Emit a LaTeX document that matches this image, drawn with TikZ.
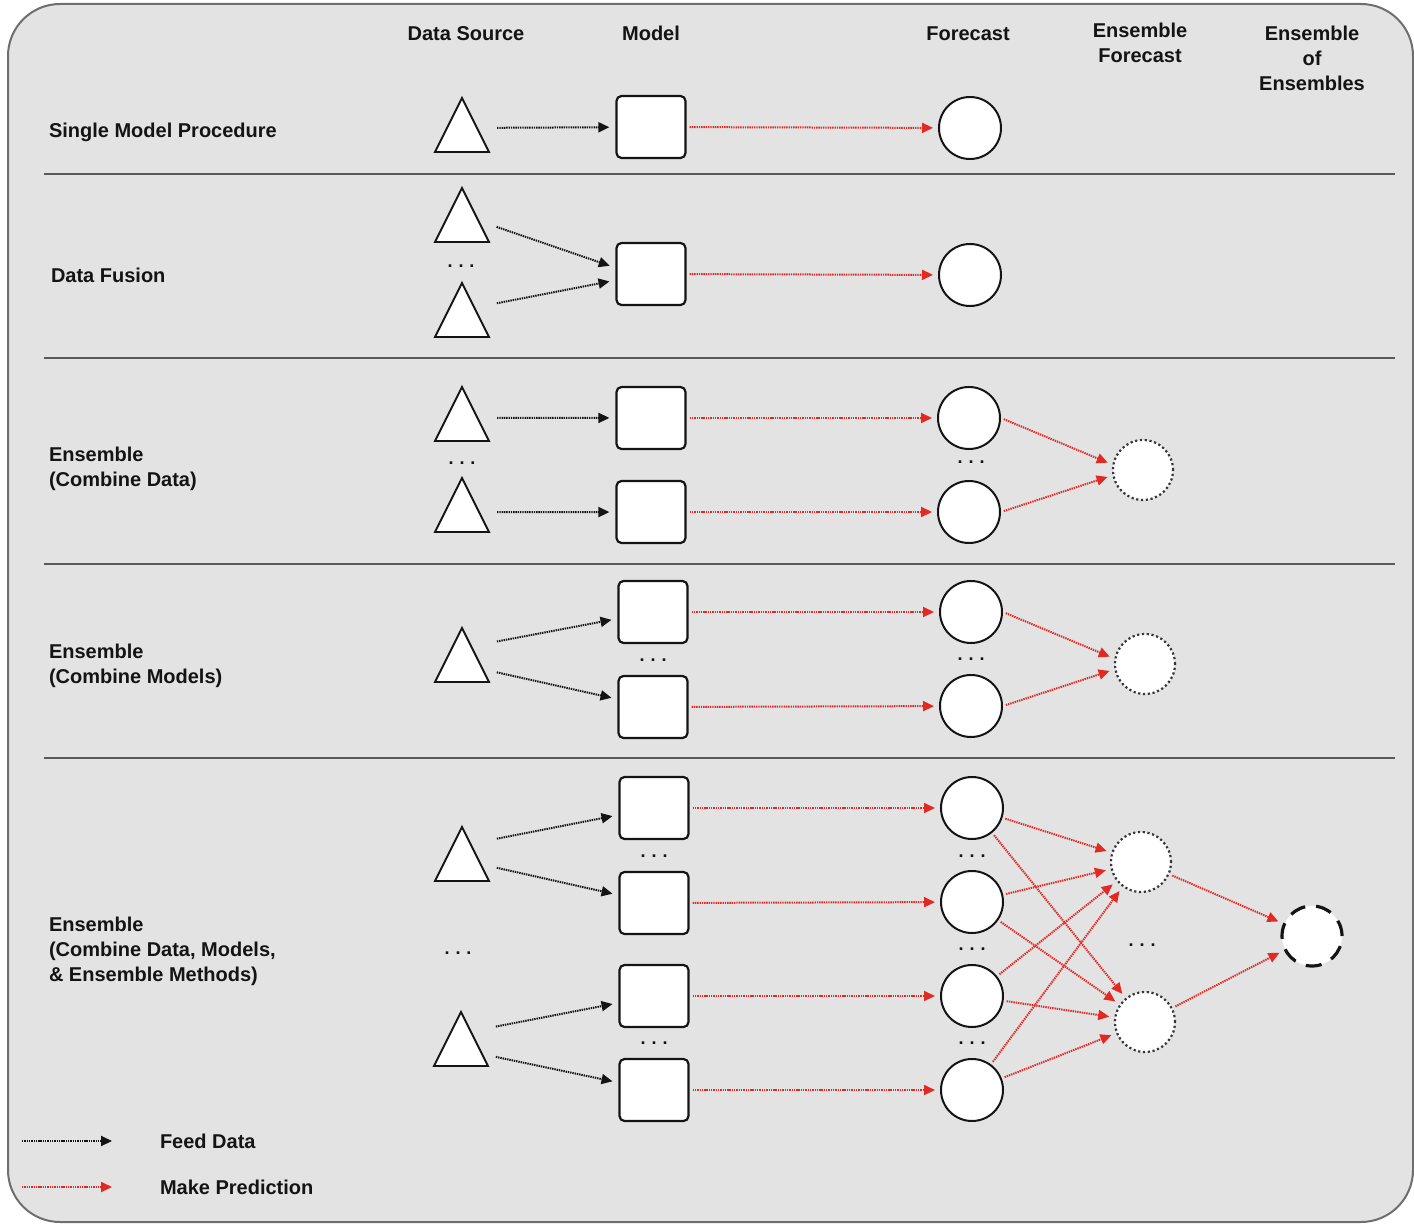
\documentclass[tikz,border=0pt]{standalone}
\usepackage{fontspec}
\setmainfont{Liberation Sans}
\usetikzlibrary{arrows.meta}
\definecolor{panel}{HTML}{E3E3E3}
\definecolor{frame}{HTML}{6E6E6E}
\definecolor{rule}{HTML}{5A5A5A}
\definecolor{ink}{HTML}{141414}
\definecolor{predred}{HTML}{E22A24}
\begin{document}
\begin{tikzpicture}[x=1pt,y=-1pt,
  lbl/.style={font=\fontsize{20}{25}\selectfont\bfseries, text=ink, inner sep=0pt, outer sep=0pt},
  hdr/.style={lbl, align=center},
  rowlbl/.style={lbl, align=left, anchor=west},
  more/.style={font=\fontsize{18}{18}\selectfont\bfseries, text=ink, inner sep=0pt},
  src/.style={minimum width=54pt, minimum height=54pt, inner sep=0pt, outer sep=0pt},
  trishape/.style={draw=ink, fill=white, line width=1.9pt, line join=miter},
  mdl/.style={draw=ink, fill=white, line width=2.2pt, rounded corners=5pt,
    minimum width=69pt, minimum height=62pt, inner sep=0pt},
  fc/.style={circle, draw=ink, fill=white, line width=2pt, minimum size=62pt, inner sep=0pt},
  ens/.style={circle, draw=ink!85, fill=white, line width=2.2pt, dash pattern=on 2.2pt off 2.6pt,
    minimum size=60pt, inner sep=0pt},
  ensens/.style={circle, draw=ink, fill=white, line width=3.2pt, dash pattern=on 16pt off 11pt,
    minimum size=60pt, inner sep=0pt},
  tip/.style={-{Triangle[length=11pt,width=10pt]}},
  feed/.style={tip, draw=ink, line width=2pt, dash pattern=on 1.4pt off 0.9pt,
    shorten <=8pt, shorten >=6pt},
  pred/.style={tip, draw=predred, line width=2pt, dash pattern=on 1.4pt off 0.9pt,
    shorten <=3pt, shorten >=5pt},
]
\useasboundingbox (0,0) rectangle (1414,1225);

% panel and row separators
\draw[fill=panel, draw=frame, line width=2pt, rounded corners=52pt] (8,4) rectangle (1413,1222);
\foreach \yy in {174,358,564,758}
  \draw[rule, line width=2pt] (44,\yy) -- (1395,\yy);

% column headers
\node[hdr, anchor=base] (hsrc) at (466,41) {Data Source};
\node[hdr, anchor=base] (hmdl) at (651,41) {Model};
\node[hdr, anchor=base] (hfc) at (968,41) {Forecast};
\node[hdr] (hens) at (1140,43) {Ensemble\\Forecast};
\node[hdr] (hee) at (1312,58) {Ensemble\\of\\Ensembles};

% row labels
\node[lbl, anchor=base west] (r1) at (49,138) {Single Model Procedure};
\node[lbl, anchor=base west] (r2) at (51,283) {Data Fusion};
\node[rowlbl] (r3) at (49,469) {Ensemble\\(Combine Data)};
\node[rowlbl] (r4) at (49,666) {Ensemble\\(Combine Models)};
\node[rowlbl] (r5) at (49,951) {Ensemble\\(Combine Data, Models,\\\& Ensemble Methods)};

% data sources
\node[src] (t11) at (462,125) {};
\node[src] (t21) at (462,215) {};
\node[src] (t22) at (462,310) {};
\node[src] (t31) at (462,414) {};
\node[src] (t32) at (462,505) {};
\node[src] (t41) at (462,655) {};
\node[src] (t51) at (462,854) {};
\node[src] (t52) at (461,1039) {};
\foreach \n in {t11,t21,t22,t31,t32,t41,t51,t52}
  \draw[trishape] (\n.north) -- (\n.south east) -- (\n.south west) -- cycle;

% models
\node[mdl] (m11) at (651,127) {};
\node[mdl] (m21) at (651,274) {};
\node[mdl] (m31) at (651,418) {};
\node[mdl] (m32) at (651,512) {};
\node[mdl] (m41) at (653,612) {};
\node[mdl] (m42) at (653,707) {};
\node[mdl] (m51) at (654,808) {};
\node[mdl] (m52) at (654,903) {};
\node[mdl] (m53) at (654,996) {};
\node[mdl] (m54) at (654,1090) {};

% forecasts
\node[fc] (f11) at (970,128) {};
\node[fc] (f21) at (970,275) {};
\node[fc] (f31) at (969,418) {};
\node[fc] (f32) at (969,512) {};
\node[fc] (f41) at (971,612) {};
\node[fc] (f42) at (971,706) {};
\node[fc] (f51) at (972,808) {};
\node[fc] (f52) at (972,902) {};
\node[fc] (f53) at (972,996) {};
\node[fc] (f54) at (972,1090) {};

% ensemble forecasts and the ensemble of ensembles
\node[ens] (e31) at (1143,470) {};
\node[ens] (e41) at (1145,664) {};
\node[ens] (e51) at (1141,862) {};
\node[ens] (e52) at (1145,1022) {};
\node[ensens] (g5) at (1312,936) {};

% ellipses
\node[more] (d2s) at (461,266) {.\,\,.\,\,.};
\node[more] (d3s) at (462,463) {.\,\,.\,\,.};
\node[more] (d3f) at (971,462) {.\,\,.\,\,.};
\node[more] (d4m) at (653,660) {.\,\,.\,\,.};
\node[more] (d4f) at (971,659) {.\,\,.\,\,.};
\node[more] (d5s) at (458,953) {.\,\,.\,\,.};
\node[more] (d5m1) at (654,856) {.\,\,.\,\,.};
\node[more] (d5m2) at (654,1043) {.\,\,.\,\,.};
\node[more] (d5f1) at (972,856) {.\,\,.\,\,.};
\node[more] (d5f2) at (972,949) {.\,\,.\,\,.};
\node[more] (d5f3) at (972,1043) {.\,\,.\,\,.};
\node[more] (d5e) at (1142,945) {.\,\,.\,\,.};

% feed data
\draw[feed] (t11.-6) -- (m11);
\draw[feed] (t21) -- (m21.170);
\draw[feed] (t22) -- (m21.190);
\draw[feed] (t31.-8) -- (m31);
\draw[feed] (t32.-15) -- (m32);
\draw[feed] (t41.24) -- (m41);
\draw[feed] (t41.-30) -- (m42);
\draw[feed] (t51.27) -- (m51);
\draw[feed] (t51.-24) -- (m52);
\draw[feed] (t52.22) -- (m53);
\draw[feed] (t52.-31) -- (m54);

% predictions
\draw[pred] (m11) -- (f11);
\draw[pred] (m21) -- (f21);
\draw[pred] (m31) -- (f31);
\draw[pred] (m32) -- (f32);
\draw[pred] (m41) -- (f41);
\draw[pred] (m42) -- (f42);
\foreach \k in {1,2,3,4}
  \draw[pred] (m5\k) -- (f5\k);

\draw[pred] (f31.east) -- (e31.170);
\draw[pred] (f32.east) -- (e31.190);
\draw[pred] (f41.east) -- (e41.170);
\draw[pred] (f42.east) -- (e41.190);
\foreach \k in {1,2,3,4} {
  \draw[pred] (f5\k) -- (e51);
  \draw[pred] (f5\k) -- (e52);
}
\draw[pred] (e51) -- (g5);
\draw[pred] (e52) -- (g5);

% legend
\coordinate (lf0) at (22,1141);
\coordinate (lf1) at (112,1141);
\coordinate (lp0) at (22,1187);
\coordinate (lp1) at (112,1187);
\draw[feed, shorten <=0pt, shorten >=0pt] (lf0) -- (lf1);
\draw[pred, shorten <=0pt, shorten >=0pt] (lp0) -- (lp1);
\node[lbl, anchor=base west] (lgf) at (160,1148) {Feed Data};
\node[lbl, anchor=base west] (lgp) at (160,1194) {Make Prediction};
\end{tikzpicture}
\end{document}
